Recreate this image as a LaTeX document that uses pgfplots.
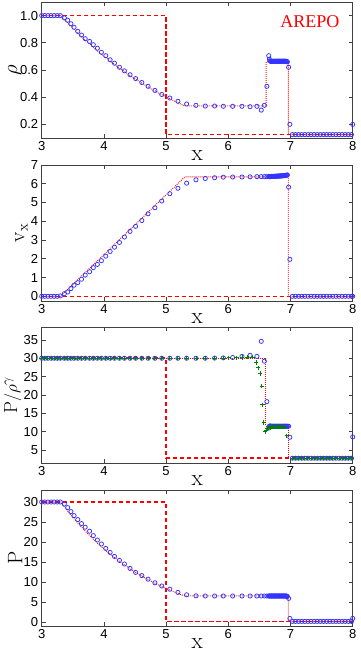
\documentclass[border=0pt]{standalone}
\usepackage{fontspec}
\newfontfamily\tickfont{Liberation Sans}
\newfontfamily\arepofont{Liberation Serif}
\usepackage{pgfplots}
\usepackage{pgfplotstable}
\pgfplotsset{compat=1.18}

\definecolor{simblue}{rgb}{0.2,0.2,1}
\definecolor{simgreen}{rgb}{0,0.5,0}

% AREPO cells: x, density, velocity, entropy P/rho^gamma, pressure
\pgfplotstableread{
x     rho    vx    ent   P
3.00  1.0    0.0   30.0  30.0
3.05  1.0    0.0   30.0  30.0
3.10  1.0    0.0   30.0  30.0
3.15  1.0    0.0   30.0  30.0
3.20  1.0    0.0   30.0  30.0
3.25  1.0    0.0   30.0  30.0
3.30  1.0    0.02  30.0  30.0
3.364 0.983  0.14  30.0  29.5
3.418 0.966  0.23  30.0  28.6
3.47  0.94   0.41  30.0  27.6
3.52  0.914  0.59  30.0  26.6
3.58  0.884  0.73  30.0  25.6
3.64  0.857  0.91  30.0  24.6
3.70  0.83   1.13  30.0  23.7
3.77  0.81   1.31  30.0  22.7
3.83  0.786  1.53  30.0  21.6
3.895 0.76   1.70  30.0  20.5
3.96  0.73   1.90  30.0  19.5
4.03  0.705  2.14  30.0  18.4
4.10  0.675  2.39  30.0  17.4
4.17  0.65   2.62  30.0  16.4
4.25  0.62   2.87  30.0  15.4
4.33  0.594  3.16  30.0  14.5
4.42  0.565  3.46  30.0  13.4
4.51  0.537  3.73  30.0  12.4
4.61  0.508  4.04  30.0  11.6
4.71  0.48   4.40  30.0  10.7
4.82  0.45   4.72  30.0  9.8
4.93  0.42   5.08  30.0  9.0
5.06  0.394  5.47  30.0  8.2
5.19  0.37   5.76  30.0  7.4
5.33  0.35   6.03  30.0  6.8
5.48  0.34   6.21  30.0  6.55
5.63  0.335  6.28  30.0  6.5
5.78  0.335  6.32  30.05 6.5
5.92  0.333  6.35  30.1  6.5
6.07  0.333  6.36  30.2  6.5
6.22  0.333  6.36  30.5  6.5
6.35  0.33   6.37  30.8  6.5
6.46  0.333  6.38  30.5  6.5
6.53  0.305  6.38  34.6  6.5
6.58  0.34   6.38  29.2  6.5
6.62  0.48   6.38  18.2  6.5
6.65  0.705  6.38  11.0  6.5
6.66  0.68   6.38  11.5  6.5
6.67  0.668  6.38  11.6  6.5
6.68  0.664  6.38  11.5  6.5
6.69  0.662  6.39  11.5  6.5
6.70  0.664  6.39  11.5  6.5
6.71  0.665  6.39  11.5  6.5
6.72  0.663  6.39  11.5  6.5
6.73  0.664  6.39  11.5  6.5
6.74  0.665  6.40  11.5  6.5
6.75  0.664  6.40  11.5  6.5
6.76  0.665  6.40  11.5  6.5
6.77  0.664  6.40  11.5  6.5
6.78  0.665  6.40  11.5  6.5
6.79  0.664  6.41  11.5  6.5
6.80  0.665  6.41  11.5  6.5
6.81  0.664  6.41  11.5  6.5
6.82  0.665  6.41  11.5  6.5
6.83  0.664  6.41  11.5  6.5
6.84  0.665  6.42  11.5  6.5
6.85  0.664  6.42  11.5  6.5
6.86  0.665  6.42  11.5  6.5
6.87  0.664  6.42  11.5  6.5
6.88  0.665  6.43  11.5  6.5
6.89  0.664  6.43  11.5  6.5
6.90  0.665  6.43  11.5  6.5
6.91  0.664  6.44  11.5  6.5
6.92  0.665  6.44  11.5  6.5
6.93  0.664  6.45  11.5  6.5
6.94  0.663  6.46  11.5  6.45
6.95  0.66   6.47  11.5  6.4
6.97  0.62   5.82  11.5  5.9
6.99  0.20   1.97  8.5   0.9
7.03  0.125  0.0   2.8   0.15
7.08  0.125  0.0   2.8   0.15
7.13  0.125  0.0   2.8   0.15
7.18  0.125  0.0   2.8   0.15
7.23  0.125  0.0   2.8   0.15
7.28  0.125  0.0   2.8   0.15
7.33  0.125  0.0   2.8   0.15
7.38  0.125  0.0   2.8   0.15
7.43  0.125  0.0   2.8   0.15
7.48  0.125  0.0   2.8   0.15
7.53  0.125  0.0   2.8   0.15
7.58  0.125  0.0   2.8   0.15
7.63  0.125  0.0   2.8   0.15
7.68  0.125  0.0   2.8   0.15
7.73  0.125  0.0   2.8   0.15
7.78  0.125  0.0   2.8   0.15
7.83  0.125  0.0   2.8   0.15
7.88  0.125  0.0   2.8   0.15
7.93  0.125  0.0   2.8   0.15
7.98  0.125  0.0   2.8   0.15
8.00  0.20   0.0   8.6   0.9
}\simdata

% second code, entropy only
\pgfplotstableread{
x     ent
3.00  30.0
3.05  30.0
3.10  30.0
3.15  30.0
3.20  30.0
3.25  30.0
3.30  30.0
3.364 30.0
3.418 30.0
3.47  30.0
3.52  30.0
3.58  30.0
3.64  30.0
3.70  30.0
3.77  30.0
3.83  30.0
3.895 30.0
3.96  30.0
4.03  30.0
4.10  30.0
4.17  30.0
4.25  30.0
4.33  30.0
4.42  30.0
4.51  30.0
4.61  30.0
4.71  30.0
4.82  30.0
4.93  30.0
5.06  30.0
5.19  30.0
5.33  30.0
5.48  30.0
5.63  30.0
5.78  30.0
5.92  30.0
6.01  30.1
6.13  30.1
6.22  30.2
6.30  30.3
6.39  30.3
6.45  28.8
6.48  27.4
6.51  25.8
6.54  22.4
6.55  17.3
6.57  12.5
6.59  10.0
6.61  10.4
6.63  10.9
6.65  11.1
6.67  11.2
6.69  11.3
6.71  11.3
6.73  11.3
6.75  11.3
6.77  11.3
6.79  11.3
6.81  11.3
6.83  11.3
6.85  11.3
6.87  11.3
6.89  11.3
6.91  11.3
6.94  8.9
7.03  2.8
7.08  2.8
7.13  2.8
7.18  2.8
7.23  2.8
7.28  2.8
7.33  2.8
7.38  2.8
7.43  2.8
7.48  2.8
7.53  2.8
7.58  2.8
7.63  2.8
7.68  2.8
7.73  2.8
7.78  2.8
7.83  2.8
7.88  2.8
7.93  2.8
7.98  2.8
}\greendata

\pgfplotsset{
  shock/.style={
    scale only axis, width=311pt, height=136pt,
    xmin=3, xmax=8, xtick={3,4,5,6,7,8},
    tick align=inside, tick pos=both,
    major tick length=4pt,
    axis line style={black!75, line width=0.8pt},
    every tick/.style={black!75, line width=0.6pt},
    tick label style={font=\tickfont\fontsize{13}{13}\selectfont},
    /pgf/number format/assume math mode=true,
    xlabel={$\mathrm{x}$},
    xlabel style={font=\fontsize{23}{23}\selectfont, inner sep=0pt, at={(axis description cs:0.5,0)}, anchor=center, yshift=-18pt},
    ylabel style={font=\fontsize{21}{21}\selectfont, inner sep=0pt, anchor=center},
    clip=true,
  },
  sim/.style={only marks, mark=o, mark size=2.1pt, color=simblue, mark options={line width=0.75pt}},
  gsim/.style={only marks, mark=+, mark size=2.2pt, color=simgreen, mark options={line width=0.9pt}},
  ini/.style={color=red, solid, line width=1.6pt, dash pattern=on 4.5pt off 2.5pt},
  ana/.style={color=red, line width=1pt, dash pattern=on 0.8pt off 1.2pt},
}

\begin{document}
\begin{tikzpicture}
\useasboundingbox (0,0) rectangle (360pt,654pt);

% density
\begin{axis}[shock, at={(41.7pt,516pt)}, anchor=south west,
  ymin=0.1, ymax=1.1, ytick={0.2,0.4,0.6,0.8,1.0},
  yticklabel style={/pgf/number format/.cd, fixed, fixed zerofill, precision=1},
  ylabel={$\rho$}, ylabel style={font=\fontsize{20}{20}\selectfont, at={(axis description cs:-0.087,0.5)}}]
\addplot[sim] table[x=x, y=rho] {\simdata};
\addplot[ini] coordinates {(3,1) (5,1) (5,0.125) (8,0.125)};
\addplot[ana] coordinates {(3,1) (3.30,1) (3.5,0.9065) (3.7,0.8193) (3.9,0.7390) (4.1,0.6651) (4.3,0.5972) (4.5,0.5350) (4.7,0.4781) (4.9,0.4261) (5.1,0.3788) (5.30,0.3357) (6.61,0.3357) (6.61,0.66) (6.965,0.66) (6.965,0.125) (8,0.125)};
\node[font=\arepofont\fontsize{18}{18}\selectfont, text=red] at (axis cs:7.31,0.955) {AREPO};
\end{axis}

% velocity
\begin{axis}[shock, at={(41.7pt,353pt)}, anchor=south west,
  ymin=-0.25, ymax=7, ytick={0,1,2,3,4,5,6,7},
  ylabel={$\mathrm{v}_\mathrm{x}$}, ylabel style={at={(axis description cs:-0.065,0.5)}}]
\addplot[sim] table[x=x, y=vx] {\simdata};
\addplot[ini] coordinates {(3,0) (8,0)};
\addplot[ana] coordinates {(3,0) (3.30,0) (5.30,6.36) (6.965,6.36) (6.965,0) (8,0)};
\end{axis}

% entropy
\begin{axis}[shock, at={(41.7pt,191pt)}, anchor=south west,
  ymin=1.5, ymax=38.5, ytick={5,10,15,20,25,30,35},
  ylabel={$\mathrm{P}/\rho^\gamma$},
  ylabel style={font=\fontsize{19}{19}\selectfont, at={(axis description cs:-0.093,0.5)}}]
\addplot[sim] table[x=x, y=ent] {\simdata};
\addplot[gsim] table[x=x, y=ent] {\greendata};
\addplot[ini] coordinates {(3,30) (5,30) (5,2.8) (8,2.8)};
\addplot[ana] coordinates {(3,30) (6.60,30) (6.60,11.5) (6.965,11.5) (6.965,2.8) (8,2.8)};
\end{axis}

% pressure
\begin{axis}[shock, at={(41.7pt,28pt)}, anchor=south west,
  ymin=-1, ymax=33, ytick={0,5,10,15,20,25,30},
  ylabel={$\mathrm{P}$}, ylabel style={at={(axis description cs:-0.085,0.5)}}]
\addplot[sim] table[x=x, y=P] {\simdata};
\addplot[ini] coordinates {(3,30) (5,30) (5,0.15) (8,0.15)};
\addplot[ana] coordinates {(3,30) (3.30,30) (3.5,26.15) (3.7,22.70) (3.9,19.64) (4.1,16.95) (4.3,14.58) (4.5,12.50) (4.7,10.68) (4.9,9.09) (5.1,7.71) (5.30,6.51) (6.965,6.51) (6.965,0.15) (8,0.15)};
\end{axis}
\end{tikzpicture}
\end{document}
